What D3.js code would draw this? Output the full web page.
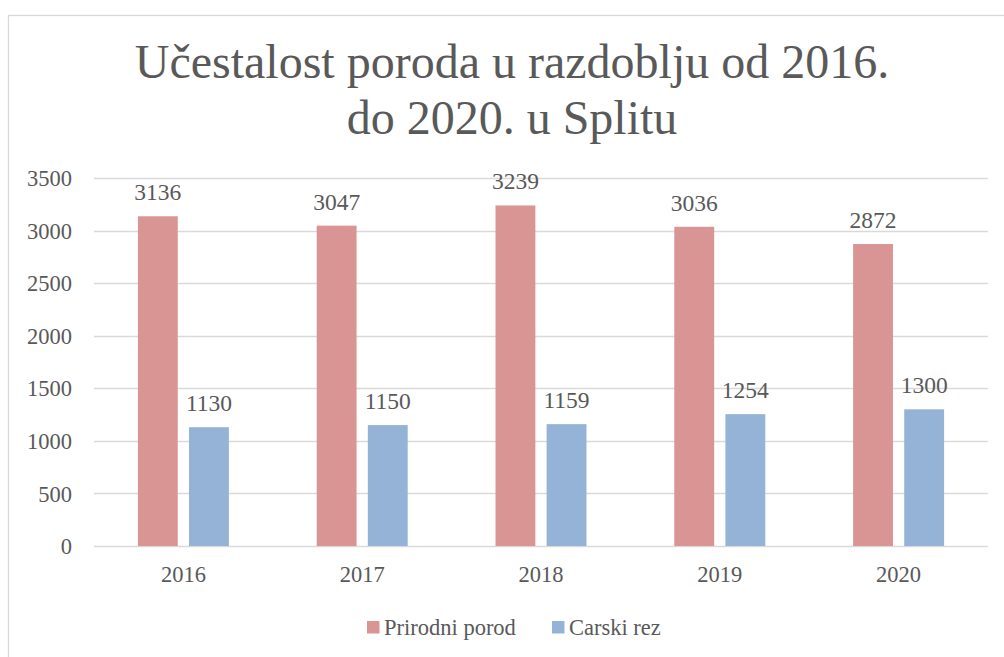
<!DOCTYPE html>
<html>
<head>
<meta charset="utf-8">
<script src="https://cdn.jsdelivr.net/npm/d3@7"></script>
</head>
<body style="margin:0;background:#fff">
<script>
//-----------------Data----------------

const years = ["2016", "2017", "2018", "2019", "2020"];
const seriesNames = ["Prirodni porod", "Carski rez"];
const prirodni = [3136, 3047, 3239, 3036, 2872];
const carski = [1130, 1150, 1159, 1254, 1300];
const yTicks = [0, 500, 1000, 1500, 2000, 2500, 3000, 3500];
const colors = ["#d99594", "#95b3d7"];

const width = 1004;
const height = 657;
const serif = "Liberation Serif";
const textColor = "#595959";

const svg = d3.select("body").append("svg").attr("width", width).attr("height", height).attr("font-family", serif);

// chart border (runs past right/bottom edge like in the screenshot)
svg
  .append("rect")
  .attr("x", 8.5)
  .attr("y", 15.5)
  .attr("width", 1010)
  .attr("height", 660)
  .attr("fill", "none")
  .attr("stroke", "#d9d9d9")
  .attr("stroke-width", 1.3);

//-----------------Title---------------------

const title = svg
  .append("text")
  .attr("text-anchor", "middle")
  .attr("font-family", serif)
  .attr("font-size", 48)
  .attr("fill", textColor);
title.append("tspan").attr("x", 512).attr("y", 78).text("Učestalost poroda u razdoblju od 2016.");
title.append("tspan").attr("x", 512).attr("y", 134).text("do 2020. u Splitu");

//----------------Scales-----------------

const x0 = d3.scaleBand().domain(years).range([94, 988]).padding(0);
const groupHalf = 45.5;
const x1 = d3
  .scaleBand()
  .domain(seriesNames)
  .range([x0.bandwidth() / 2 - groupHalf, x0.bandwidth() / 2 + groupHalf])
  .paddingInner(0.22);
const y = d3.scaleLinear().domain([0, 3500]).range([546, 178]);

//----------------Grid + axis-----------------

svg
  .append("g")
  .selectAll("line")
  .data(yTicks)
  .enter()
  .append("line")
  .attr("x1", 94)
  .attr("x2", 988)
  .attr("y1", (d) => Math.round(y(d)) + 0.5)
  .attr("y2", (d) => Math.round(y(d)) + 0.5)
  .attr("stroke", "#d9d9d9")
  .attr("stroke-width", 1.5);

const yAxis = d3.axisLeft(y).tickValues(yTicks).tickFormat(d3.format("d")).tickSize(0).tickPadding(0);
svg
  .append("g")
  .attr("transform", "translate(72,0)")
  .call(yAxis)
  .attr("font-family", serif)
  .attr("font-size", 22.5)
  .call((g) => g.select(".domain").remove())
  .selectAll("text")
  .attr("dy", "0.34em")
  .attr("fill", textColor);

const xAxis = d3.axisBottom(x0).tickSize(0).tickPadding(0);
svg
  .append("g")
  .attr("transform", "translate(0,546)")
  .call(xAxis)
  .attr("font-family", serif)
  .attr("font-size", 22.5)
  .call((g) => g.select(".domain").remove())
  .selectAll("text")
  .attr("y", 36)
  .attr("dy", 0)
  .attr("fill", textColor);

//----------------Bars-----------------

const rows = years.map((yr, i) => ({ year: yr, values: [prirodni[i], carski[i]] }));

const groups = svg
  .append("g")
  .selectAll("g")
  .data(rows)
  .enter()
  .append("g")
  .attr("transform", (d) => "translate(" + x0(d.year) + ",0)");

groups
  .selectAll("rect")
  .data((d) => d.values.map((v, j) => ({ name: seriesNames[j], value: v, j: j })))
  .enter()
  .append("rect")
  .attr("x", (d) => x1(d.name))
  .attr("width", x1.bandwidth())
  .attr("y", (d) => y(d.value))
  .attr("height", (d) => y(0) - y(d.value))
  .attr("fill", (d) => colors[d.j]);

groups
  .selectAll("text.lbl")
  .data((d) => d.values.map((v, j) => ({ name: seriesNames[j], value: v })))
  .enter()
  .append("text")
  .attr("class", "lbl")
  .attr("x", (d) => x1(d.name) + x1.bandwidth() / 2)
  .attr("y", (d) => y(d.value) - 16)
  .attr("text-anchor", "middle")
  .attr("font-family", serif)
  .attr("font-size", 23.5)
  .attr("fill", textColor)
  .text((d) => d.value);

//-----------Legend--------------

const legend = svg.append("g");
const legendX = [367, 552];
seriesNames.forEach((name, i) => {
  legend
    .append("rect")
    .attr("x", legendX[i])
    .attr("y", 621)
    .attr("width", 12.5)
    .attr("height", 12.5)
    .attr("fill", colors[i]);
  legend
    .append("text")
    .attr("x", legendX[i] + 17)
    .attr("y", 635)
    .attr("font-family", serif)
    .attr("font-size", 22.5)
    .attr("fill", textColor)
    .text(name);
});
</script>
</body>
</html>
